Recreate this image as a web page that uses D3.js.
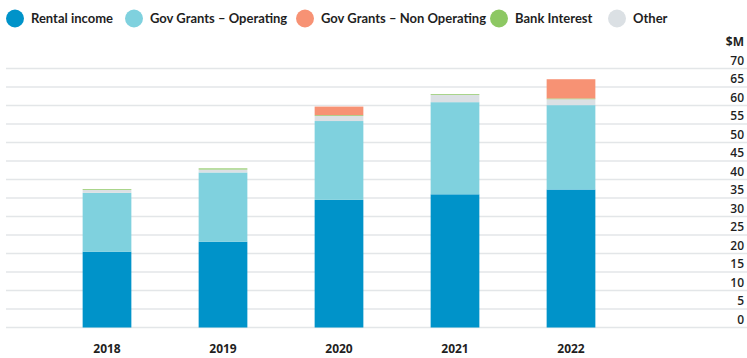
<!DOCTYPE html>
<html>
<head>
<meta charset="utf-8">
<script src="https://cdn.jsdelivr.net/npm/d3@7/dist/d3.min.js"></script>
<style>
  html, body { margin: 0; padding: 0; background: #fff; }
  svg { display: block; }
  .legend text { font-family: Lato, "Open Sans", sans-serif; font-weight: 700; font-size: 13px; fill: #1f1f1f; }
  .axis text { font-family: "Open Sans", "Noto Sans", sans-serif; font-weight: 600; font-size: 12px; fill: #1f1f1f; }
</style>
</head>
<body>
<svg id="chart" width="747" height="358"></svg>
<script>
// Revenue by source, $M
const years = ["2018", "2019", "2020", "2021", "2022"];
const rentalIncome = [20.5, 23.2, 34.5, 36.0, 37.3];
const grantsOperating = [15.9, 18.7, 21.3, 24.9, 22.8];
const otherIncome = [0.8, 0.8, 1.4, 2.0, 1.6];
const bankInterest = [0.2, 0.3, 0.2, 0.2, 0.2];
const grantsNonOperating = [0, 0, 2.3, 0, 5.2];
const yTicks = [0, 5, 10, 15, 20, 25, 30, 35, 40, 45, 50, 55, 60, 65, 70];
const unitLabel = "$M";

// stacking order, bottom to top
const series = [
  { key: "rental", name: "Rental income", values: rentalIncome, color: "#0093c9" },
  { key: "op", name: "Gov Grants – Operating", values: grantsOperating, color: "#7fd1de" },
  { key: "other", name: "Other", values: otherIncome, color: "#dbe0e4" },
  { key: "bank", name: "Bank Interest", values: bankInterest, color: "#8dc863" },
  { key: "nonop", name: "Gov Grants – Non Operating", values: grantsNonOperating, color: "#f79274" }
];
const legendOrder = ["rental", "op", "nonop", "bank", "other"];
const legendX = [15, 134, 305, 499, 617];

const svg = d3.select("#chart");

const rows = years.map((y, i) => {
  const r = { year: y };
  series.forEach(s => r[s.key] = s.values[i]);
  return r;
});
const stacked = d3.stack().keys(series.map(s => s.key))(rows);

const x = d3.scaleBand().domain(years).range([49, 629]).paddingInner(0.58).paddingOuter(0.29);
const y = d3.scaleLinear().domain([0, 70]).range([327.5, 68.5]);

// gridlines
svg.append("g").selectAll("line").data(yTicks).join("line")
  .attr("x1", 6).attr("x2", 747)
  .attr("y1", d => y(d)).attr("y2", d => y(d))
  .attr("stroke", "#e3e6e8").attr("stroke-width", 1.3);

// y labels, right aligned above their gridline
const axis = svg.append("g").attr("class", "axis");
axis.selectAll("text.tick").data(yTicks).join("text")
  .attr("class", "tick")
  .attr("x", 744).attr("y", d => y(d) - 4)
  .attr("text-anchor", "end")
  .text(d => d);
axis.append("text")
  .attr("x", 744).attr("y", y(75) - 4)
  .attr("text-anchor", "end")
  .style("font-weight", 700)
  .text(unitLabel);

// bars
const colorOf = Object.fromEntries(series.map(s => [s.key, s.color]));
svg.append("g").selectAll("g").data(stacked).join("g")
  .attr("fill", d => colorOf[d.key])
  .selectAll("rect").data(d => d).join("rect")
  .attr("x", d => x(d.data.year))
  .attr("width", x.bandwidth())
  .attr("y", d => y(d[1]))
  .attr("height", d => Math.max(0, y(d[0]) - y(d[1])));

// year labels
axis.selectAll("text.year").data(years).join("text")
  .attr("class", "year")
  .attr("x", d => x(d) + x.bandwidth() / 2)
  .attr("y", 353)
  .attr("text-anchor", "middle")
  .style("font-weight", 700)
  .text(d => d);

// legend
const legend = svg.append("g").attr("class", "legend");
legendOrder.forEach((k, i) => {
  const s = series.find(d => d.key === k);
  const g = legend.append("g").attr("transform", `translate(${legendX[i]},18.5)`);
  g.append("circle").attr("r", 9).attr("fill", s.color);
  g.append("text").attr("x", 16).attr("y", 4.7).text(s.name);
});
</script>
</body>
</html>
